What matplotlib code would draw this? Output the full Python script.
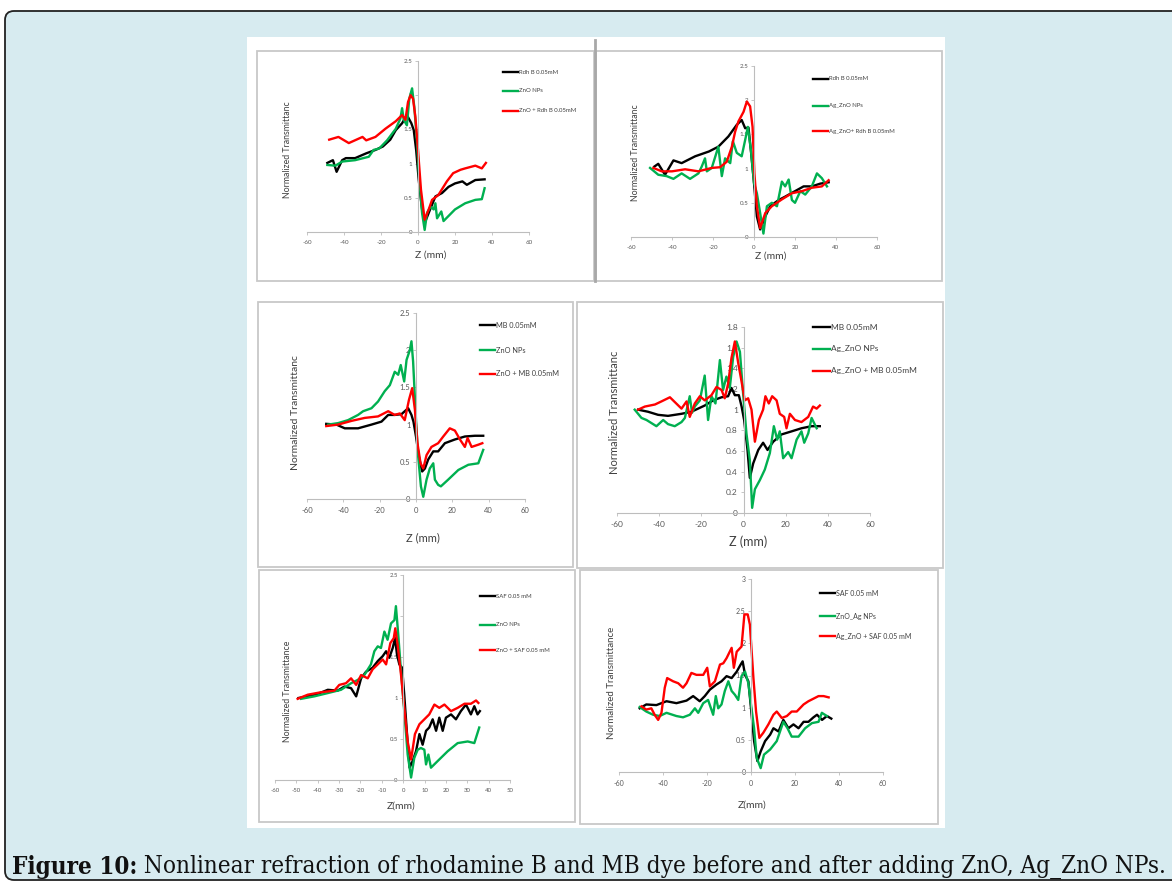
import matplotlib
matplotlib.use("Agg")
import matplotlib.pyplot as plt
from matplotlib.patches import Rectangle, FancyBboxPatch
from matplotlib.lines import Line2D
from matplotlib.transforms import IdentityTransform

plt.rcParams['font.family'] = ['Lato', 'DejaVu Sans']
plt.rcParams['axes.unicode_minus'] = False

W, H = 1172, 890

# ---- data (z in mm, normalized transmittance) ----

# panel 1: Rdh B with ZnO
p1_dye_z = [-49, -46, -44, -41, -39, -34, -28, -23, -19, -15, -12, -8.6, -6,
            -3.6, -2.3, -1, 0.4, 2.2, 3.6, 5.8, 9.4, 13, 16.5, 20, 24, 26.4,
            31, 36]
p1_dye_t = [1.01, 1.05, 0.88, 1.05, 1.08, 1.08, 1.15, 1.2, 1.25, 1.35, 1.49,
            1.59, 1.71, 1.59, 1.49, 1.2, 0.76, 0.33, 0.13, 0.28, 0.52, 0.57,
            0.66, 0.71, 0.74, 0.69, 0.76, 0.77]
p1_np_z = [-49, -44.6, -41, -34, -26.6, -24, -21, -16.7, -12, -9.5, -8.6,
           -7.7, -6, -4.7, -3.2, -2, -0.5, 0.7, 2.2, 3.6, 4.9, 6.7, 8.5, 9.4,
           10.3, 12.6, 13.8, 20, 25.5, 31, 34.5, 36]
p1_np_t = [0.98, 0.97, 1.03, 1.05, 1.1, 1.2, 1.22, 1.34, 1.51, 1.66, 1.81,
           1.64, 1.56, 1.95, 2.1, 1.83, 1.3, 0.76, 0.28, 0.03, 0.28, 0.37,
           0.33, 0.42, 0.2, 0.3, 0.16, 0.33, 0.42, 0.47, 0.48, 0.64]
p1_mix_z = [-48, -43, -37.4, -30, -28, -23, -17.6, -12, -8.6, -6.8, -5.4, -4,
            -2.7, -1.4, 0, 1.6, 3.6, 5.8, 7.6, 11, 15.6, 19, 23, 25.5, 31,
            34.5, 36.7]
p1_mix_t = [1.35, 1.39, 1.3, 1.39, 1.34, 1.39, 1.51, 1.62, 1.71, 1.64, 1.9,
            2.0, 1.95, 1.68, 1.2, 0.62, 0.18, 0.33, 0.47, 0.54, 0.74, 0.86,
            0.91, 0.93, 0.97, 0.93, 1.01]

# panel 2: Rdh B with Ag_ZnO
p2_dye_z = [-48.6, -46.7, -43.4, -39.3, -35.3, -28.7, -22, -17.4, -12.5,
            -8.4, -6, -4.3, -2.7, -1.4, 0, 1.4, 3, 5.5, 7.9, 12, 15.2, 20,
            24.2, 28.2, 32.3, 36.4]
p2_dye_t = [1.03, 1.07, 0.91, 1.12, 1.08, 1.18, 1.25, 1.32, 1.47, 1.64, 1.71,
            1.59, 1.6, 1.23, 0.79, 0.3, 0.11, 0.3, 0.45, 0.54, 0.59, 0.67,
            0.74, 0.74, 0.78, 0.8]
p2_np_z = [-50.7, -46.7, -42.6, -39.3, -35.3, -31.2, -27.1, -25.5, -23.9, -23,
           -20.6, -17.4, -15.7, -14.1, -11.6, -10.3, -8.4, -6, -4.3, -3, -1.5,
           0, 1.4, 3, 4.6, 6.3, 8.7, 11.2, 13.6, 15.2, 16.9, 18.5, 20, 22.6,
           25, 28.2, 30.7, 33.1, 35.6]
p2_np_t = [1.01, 0.91, 0.89, 0.85, 0.93, 0.85, 0.93, 1.03, 1.15, 0.96, 1.01,
           1.32, 0.89, 1.15, 1.08, 1.4, 1.23, 1.18, 1.42, 1.61, 1.27, 0.79,
           0.64, 0.35, 0.05, 0.45, 0.5, 0.45, 0.81, 0.74, 0.84, 0.54, 0.5,
           0.67, 0.62, 0.74, 0.93, 0.86, 0.74]
p2_mix_z = [-49.1, -45, -40, -33.6, -27.1, -20.6, -16.6, -13.3, -10.8, -9.2,
            -7.6, -5.1, -3.5, -1.9, -0.7, 0.2, 1.4, 3, 5.5, 8.7, 13.6, 18.5,
            23.4, 28.2, 33.1, 36.4]
p2_mix_t = [1.01, 0.96, 0.96, 0.99, 0.96, 1.01, 1.02, 1.1, 1.32, 1.54, 1.69,
            1.83, 1.98, 1.91, 1.61, 0.93, 0.45, 0.13, 0.35, 0.45, 0.55, 0.64,
            0.67, 0.72, 0.74, 0.83]

# panel 3: MB with ZnO
p3_dye_z = [-49.4, -43.8, -39.2, -31.9, -24.5, -19, -15.3, -11.7, -8, -4.3,
            -2.5, -1.4, 0, 1.6, 3.4, 4.9, 6.7, 9.5, 12.2, 15.9, 21.4, 26.9,
            32.4, 37]
p3_dye_t = [1.01, 1.0, 0.95, 0.95, 1.0, 1.04, 1.13, 1.13, 1.14, 1.22, 1.13,
            1.04, 0.84, 0.57, 0.37, 0.41, 0.53, 0.64, 0.64, 0.75, 0.8, 0.84,
            0.85, 0.85]
p3_np_z = [-48.4, -42.9, -37.4, -31.9, -29.1, -24.5, -20.9, -17.2, -14.4,
           -11.7, -9.8, -8.4, -6.5, -5.2, -3.4, -2.5, -1.6, 0, 1.2, 2.7, 4,
           5.8, 7.6, 9.5, 10.4, 12.2, 13.7, 17.7, 23.3, 28.8, 34.3, 37]
p3_np_t = [1.0, 1.02, 1.06, 1.13, 1.18, 1.22, 1.31, 1.45, 1.53, 1.71, 1.67,
           1.8, 1.58, 1.87, 2.0, 2.12, 1.85, 1.06, 0.57, 0.17, 0.03, 0.26,
           0.41, 0.48, 0.26, 0.19, 0.17, 0.26, 0.39, 0.46, 0.48, 0.66]
p3_mix_z = [-49.4, -42.9, -35.5, -28.2, -20.9, -15.3, -11.7, -8.9, -6.2,
            -3.9, -2.1, -0.6, 0.8, 2.5, 4, 5.8, 8.5, 12.2, 15, 18.6, 21.4,
            24.2, 26.9, 28.4, 30.6, 34.3, 36.5]
p3_mix_t = [0.98, 1.0, 1.05, 1.09, 1.11, 1.18, 1.13, 1.15, 1.06, 1.33, 1.49,
            1.2, 0.75, 0.48, 0.41, 0.59, 0.7, 0.75, 0.84, 0.95, 0.92, 0.8,
            0.7, 0.82, 0.7, 0.73, 0.75]

# panel 4: MB with Ag_ZnO
p4_dye_z = [-50, -45.3, -40.5, -35.8, -29.4, -24.7, -18.4, -14.4, -10.4,
            -7.3, -5.7, -4.1, -2.2, -0.9, 0.3, 1.9, 3, 4.6, 7, 9.3, 11.4, 14.1,
            18, 22.8, 27.5, 32.3, 36.2]
p4_dye_t = [1.0, 0.98, 0.95, 0.94, 0.96, 0.98, 1.04, 1.09, 1.12, 1.13, 1.21,
            1.14, 1.14, 1.03, 0.9, 0.61, 0.34, 0.48, 0.61, 0.68, 0.61, 0.69,
            0.76, 0.79, 0.82, 0.84, 0.84]
p4_np_z = [-51.6, -48.4, -46, -41.3, -38.1, -35.8, -32.6, -29.4, -27.8,
           -25.5, -24.4, -23.1, -20.7, -18.4, -16.8, -15.2, -13.3, -11.2, -9.7,
           -8.1, -6.5, -4.9, -3.3, -1.7, -0.2, 1.4, 3, 4.1, 5.4, 7.8, 10.1,
           12.5, 14.4, 16, 17.2, 18.8, 21.2, 22.8, 25.2, 27.5, 28.8, 30.7,
           32.3, 34.7]
p4_np_t = [1.0, 0.92, 0.9, 0.84, 0.9, 0.86, 0.84, 0.88, 0.92, 1.13, 0.97,
           1.03, 1.09, 1.33, 0.9, 1.13, 1.06, 1.48, 1.19, 1.32, 1.21, 1.51,
           1.66, 1.56, 1.16, 0.77, 0.51, 0.05, 0.23, 0.32, 0.42, 0.58, 0.84,
           0.71, 0.79, 0.53, 0.59, 0.53, 0.71, 0.79, 0.68, 0.77, 0.92, 0.82]
p4_mix_z = [-50, -46.8, -42, -38.9, -34.9, -29.4, -27, -25.5, -23.1, -20.7,
            -18.4, -15.2, -12.8, -10.4, -8.9, -7.3, -5.7, -4.1, -2.5, -0.9,
            0.6, 2.2, 3.8, 5.4, 7.3, 9.3, 10.4, 12, 13.6, 15.7, 17.2, 19.3,
            20.4, 22, 24.4, 27.5, 30.7, 33, 34.7, 36.2]
p4_mix_t = [1.0, 1.03, 1.05, 1.08, 1.12, 1.01, 1.08, 0.93, 1.06, 1.13, 1.09,
            1.14, 1.22, 1.19, 1.11, 1.25, 1.5, 1.66, 1.45, 1.27, 1.09, 1.11,
            1.0, 0.69, 0.9, 1.0, 1.13, 1.06, 1.13, 1.09, 0.96, 0.93, 0.82,
            0.96, 0.9, 0.88, 0.93, 1.03, 1.01, 1.04]

# panel 5: SAF with ZnO
p5_dye_z = [-49, -44.7, -40, -35.3, -30.7, -27.5, -24.4, -22, -19.7, -17.4,
            -14.3, -11.9, -9.6, -8, -6.5, -4.9, -3.8, -2.9, -1.8, -0.5, 0.5,
            1.8, 3, 4.4, 6, 7.6, 9.1, 10.7, 12.2, 13.8, 15.4, 16.9, 18.5, 20,
            22.4, 24.7, 27, 29.4, 31.7, 33.3, 34.8, 35.9]
p5_dye_t = [1.0, 1.02, 1.05, 1.1, 1.09, 1.14, 1.12, 1.02, 1.24, 1.32, 1.37,
            1.45, 1.51, 1.57, 1.49, 1.61, 1.73, 1.53, 1.41, 1.37, 1.04, 0.56,
            0.15, 0.23, 0.35, 0.56, 0.43, 0.6, 0.64, 0.74, 0.6, 0.76, 0.6,
            0.76, 0.8, 0.74, 0.84, 0.92, 0.8, 0.9, 0.8, 0.84]
p5_np_z = [-47.8, -41.6, -35.3, -29.1, -24.4, -21.3, -18.2, -15.1, -13.5,
           -11.9, -10.4, -8.8, -7.3, -5.7, -4.1, -3.4, -2.3, -1, 0.5, 2.1,
           3.7, 5.2, 6.8, 8.3, 9.9, 10.7, 11.8, 13, 16.1, 20.8, 25.5, 30.2,
           33.3, 35.6]
p5_np_t = [0.99, 1.02, 1.06, 1.1, 1.18, 1.22, 1.28, 1.41, 1.57, 1.63, 1.61,
           1.81, 1.71, 1.91, 1.95, 2.12, 1.77, 1.32, 0.84, 0.31, 0.03, 0.27,
           0.37, 0.39, 0.37, 0.19, 0.31, 0.15, 0.23, 0.35, 0.45, 0.47, 0.45,
           0.64]
p5_mix_z = [-49.4, -44.7, -38.5, -32.2, -29.9, -26.8, -24.4, -22, -19.7,
            -16.6, -14.3, -11.9, -9.6, -8, -6, -4.4, -3.7, -2.6, -1, 0.5, 2.1,
            3.7, 5.5, 7.6, 9.9, 12.2, 14.6, 16.9, 19.3, 22.4, 25.5, 28.7,
            31.7, 34.1, 35.2]
p5_mix_t = [0.99, 1.04, 1.07, 1.09, 1.16, 1.18, 1.24, 1.16, 1.28, 1.24, 1.35,
            1.41, 1.47, 1.41, 1.67, 1.73, 1.85, 1.65, 1.28, 0.88, 0.47, 0.25,
            0.56, 0.68, 0.74, 0.8, 0.92, 0.88, 0.92, 0.84, 0.88, 0.93, 0.93,
            0.97, 0.94]

# panel 6: SAF with Ag_ZnO
p6_dye_z = [-50.6, -47.6, -43, -38.4, -33.9, -29.3, -26.3, -23.3, -21, -18.7,
            -15.7, -13.4, -11.1, -8.8, -6.5, -4.7, -3.8, -2.7, -1.2, 0, 1.4,
            2.9, 4.4, 6.4, 8.7, 10.2, 12.5, 14.7, 17, 19.3, 21.6, 23.9, 26.1,
            28.4, 30, 32.3, 34.5, 36.5]
p6_dye_t = [0.99, 1.05, 1.04, 1.1, 1.07, 1.11, 1.18, 1.1, 1.18, 1.28, 1.36,
            1.41, 1.49, 1.46, 1.56, 1.67, 1.72, 1.51, 1.41, 0.99, 0.48, 0.17,
            0.32, 0.48, 0.58, 0.68, 0.63, 0.81, 0.68, 0.74, 0.68, 0.78, 0.78,
            0.85, 0.89, 0.81, 0.87, 0.83]
p6_np_z = [-50.6, -47.6, -44.5, -41.5, -38.4, -33.9, -30.9, -27.8, -25.5,
           -24, -21.7, -19.5, -17.2, -16, -14.9, -13.4, -11.9, -10.3, -8.8,
           -7.3, -5.8, -4.3, -2.7, -1.2, 0, 1.4, 2.6, 4.4, 5.9, 8.7, 11.7,
           14.7, 16.6, 18.5, 21.6, 24.6, 27.7, 30.7, 32.2, 34.5]
p6_np_t = [1.01, 0.94, 0.89, 0.87, 0.92, 0.87, 0.85, 0.89, 0.99, 0.92, 1.07,
           1.12, 0.89, 1.18, 0.99, 1.05, 1.26, 1.41, 1.26, 1.2, 1.12, 1.49,
           1.56, 1.38, 1.05, 0.68, 0.22, 0.06, 0.27, 0.35, 0.48, 0.78, 0.68,
           0.55, 0.55, 0.68, 0.76, 0.78, 0.92, 0.87]
p6_mix_z = [-49.8, -47.6, -45.3, -43.8, -42.2, -40.7, -39.2, -38.1, -35.4,
            -33.1, -30.9, -29.3, -27.1, -24.8, -21.7, -19.9, -18.7, -16.4,
            -14.1, -12.6, -11.1, -8.8, -7.8, -6.5, -4.3, -3, -1.5, -0.5, 1.1,
            2.3, 3.8, 5.6, 7.9, 10.2, 11.7, 14, 16.3, 18.5, 20.8, 23.9, 26.1,
            28.4, 30.7, 33, 35.3]
p6_mix_t = [1.02, 0.97, 0.99, 0.89, 0.81, 0.92, 1.31, 1.46, 1.41, 1.38, 1.31,
            1.38, 1.54, 1.51, 1.51, 1.62, 1.33, 1.41, 1.67, 1.69, 1.77, 1.93,
            1.62, 1.87, 1.95, 2.45, 2.45, 2.29, 1.46, 0.94, 0.53, 0.61, 0.74,
            0.89, 0.94, 0.84, 0.87, 0.94, 0.94, 1.05, 1.1, 1.14, 1.18, 1.18,
            1.16]

labels_p1 = ["Rdh B 0.05mM", "ZnO NPs", "ZnO + Rdh B 0.05mM"]
labels_p2 = ["Rdh B 0.05mM", "Ag_ZnO NPs", "Ag_ZnO+ Rdh B 0.05mM"]
labels_p3 = ["MB 0.05mM", "ZnO NPs", "ZnO + MB 0.05mM"]
labels_p4 = ["MB 0.05mM", "Ag_ZnO NPs", "Ag_ZnO + MB 0.05mM"]
labels_p5 = ["SAF 0.05 mM", "ZnO NPs", "ZnO + SAF 0.05 mM"]
labels_p6 = ["SAF 0.05 mM", "ZnO_Ag NPs", "Ag_ZnO + SAF 0.05 mM"]

colors = ["#000000", "#00b050", "#ff0000"]
caption_bold = "Figure 10:"
caption_text = (" Nonlinear refraction of rhodamine B and MB dye before and "
                "after adding ZnO, Ag_ZnO NPs.")


def fx(px):
    return px / W


def fy(py):
    return 1 - py / H


fig = plt.figure(figsize=(W / 100, H / 100), dpi=100)
fig.patch.set_facecolor("white")

# light blue frame with rounded corner (pixel coordinates, y up)
frame = FancyBboxPatch((5, H - 880), 1200, 869,
                       boxstyle="round,pad=0,rounding_size=9",
                       facecolor="#d7ebf0", edgecolor="#222222", lw=1.3,
                       transform=IdentityTransform(), zorder=-3)
fig.add_artist(frame)
# white picture area
fig.add_artist(Rectangle((fx(247), fy(828)), fx(945) - fx(247),
                         fy(37) - fy(828), transform=fig.transFigure,
                         facecolor="white", edgecolor="none", zorder=-2))


def panel(box, xpx, ypx, xlim, ylim, xstep, ystep, series, labels,
          leg_x, leg_rows, leg_fs, tick_fs, ylab, ylab_pos, ylab_fs,
          xlab, xlab_pos, xlab_fs, box_color="#c8c8c8"):
    # grey border of the excel chart
    x0, y0, x1, y1 = box
    fig.add_artist(Rectangle((fx(x0), fy(y1)), fx(x1) - fx(x0),
                             fy(y0) - fy(y1), transform=fig.transFigure,
                             facecolor="none", edgecolor=box_color, lw=1.3,
                             zorder=-1))
    ax = fig.add_axes([fx(xpx[0]), fy(ypx[0]), fx(xpx[1]) - fx(xpx[0]),
                       fy(ypx[1]) - fy(ypx[0])])
    ax.patch.set_visible(False)
    for (z, t), c in zip(series, colors):
        ax.plot(z, t, color=c, lw=1.7)
    ax.set_xlim(*xlim)
    ax.set_ylim(*ylim)
    xt = [xlim[0] + i * xstep for i in range(int(round((xlim[1] - xlim[0]) / xstep)) + 1)]
    yt = [round(i * ystep, 2) for i in range(int(round(ylim[1] / ystep)) + 1)]
    ax.set_xticks(xt)
    ax.set_yticks(yt)
    ax.set_xticklabels(["%g" % v for v in xt])
    ax.set_yticklabels(["%g" % v for v in yt])
    ax.spines["top"].set_visible(False)
    ax.spines["right"].set_visible(False)
    ax.spines["left"].set_position(("data", 0))
    for s in ("left", "bottom"):
        ax.spines[s].set_color("#bdbdbd")
        ax.spines[s].set_linewidth(0.8)
    ax.tick_params(length=2.5, width=0.6, color="#bdbdbd",
                   labelsize=tick_fs, labelcolor="#595959", pad=1.5)
    ax.tick_params(axis="x", pad=3)
    # legend keys at the right
    for (lx, ly), lab, c in zip([(leg_x, r) for r in leg_rows], labels, colors):
        fig.add_artist(Line2D([fx(lx[0]), fx(lx[1])], [fy(ly), fy(ly)],
                              transform=fig.transFigure, color=c, lw=1.7))
        fig.text(fx(lx[1] + 1), fy(ly), lab, fontsize=leg_fs,
                 color="#404040", va="center", ha="left")
    fig.text(fx(ylab_pos[0]), fy(ylab_pos[1]), ylab, rotation=90,
             fontsize=ylab_fs, color="#404040", ha="center", va="center")
    fig.text(fx(xlab_pos[0]), fy(xlab_pos[1]), xlab, fontsize=xlab_fs,
             color="#404040", ha="center", va="center")
    return ax


panel((257, 51, 594, 281), (307, 529), (232, 61), (-60, 60), (0, 2.5), 20, 0.5,
      [(p1_dye_z, p1_dye_t), (p1_np_z, p1_np_t), (p1_mix_z, p1_mix_t)],
      labels_p1, (503, 518), (72, 91, 111), 4.3, 4.5,
      "Normalized Transmittanc", (287, 150), 6.3, "Z (mm)", (431, 255), 7.5)
panel((596, 51, 942, 281), (631, 877), (237, 66), (-60, 60), (0, 2.5), 20, 0.5,
      [(p2_dye_z, p2_dye_t), (p2_np_z, p2_np_t), (p2_mix_z, p2_mix_t)],
      labels_p2, (813, 828), (79, 106, 131), 4.3, 4.5,
      "Normalized Transmittanc", (635, 153), 6.3, "Z (mm)", (771, 256), 7.5)
# darker divider between the two top charts
fig.add_artist(Line2D([fx(595), fx(595)], [fy(40), fy(281)],
                      transform=fig.transFigure, color="#a8a8a8", lw=2))
panel((258, 302, 573, 567), (307, 525), (499, 313), (-60, 60), (0, 2.5), 20, 0.5,
      [(p3_dye_z, p3_dye_t), (p3_np_z, p3_np_t), (p3_mix_z, p3_mix_t)],
      labels_p3, (480, 495), (325, 350, 374), 5.3, 5.5,
      "Normalized Transmittanc", (295, 413), 7.5, "Z (mm)", (423, 538), 8)
panel((577, 302, 943, 568), (617, 870), (513, 327), (-60, 60), (0, 1.8), 20, 0.2,
      [(p4_dye_z, p4_dye_t), (p4_np_z, p4_np_t), (p4_mix_z, p4_mix_t)],
      labels_p4, (813, 830), (327, 349, 371), 6, 6,
      "Normalized Transmittanc", (615, 412), 8, "Z (mm)", (748, 542), 9)
panel((259, 570, 575, 822), (275, 510), (780, 575), (-60, 50), (0, 2.5), 10, 0.5,
      [(p5_dye_z, p5_dye_t), (p5_np_z, p5_np_t), (p5_mix_z, p5_mix_t)],
      labels_p5, (480, 495), (596, 625, 650), 4.3, 4.3,
      "Normalized Transmittance", (287, 691), 6.3, "Z(mm)", (401, 806), 7.5)
panel((580, 570, 938, 824), (619, 883), (772, 579), (-60, 60), (0, 3), 20, 0.5,
      [(p6_dye_z, p6_dye_t), (p6_np_z, p6_np_t), (p6_mix_z, p6_mix_t)],
      labels_p6, (820, 835), (593, 616, 636), 5, 5,
      "Normalized Transmittance", (612, 683), 7, "Z(mm)", (752, 805), 7.5)

# caption, scaled so that it spans the same width as in the picture
cap_font = dict(family=["DejaVu Serif"], stretch="condensed")
t1 = fig.text(fx(12), fy(867), caption_bold, fontsize=16, fontweight="bold",
              va="center", ha="left", color="#111111", **cap_font)
t2 = fig.text(0, fy(867), caption_text, fontsize=16, va="center", ha="left",
              color="#111111", **cap_font)
renderer = fig.canvas.get_renderer()
w1 = t1.get_window_extent(renderer).width
w2 = t2.get_window_extent(renderer).width
scale = 1158 / (w1 + w2)
t1.set_fontsize(16 * scale)
t2.set_fontsize(16 * scale)
w1 = t1.get_window_extent(renderer).width
t2.set_x(fx(12 + w1))

fig.savefig("out.png", dpi=100)
